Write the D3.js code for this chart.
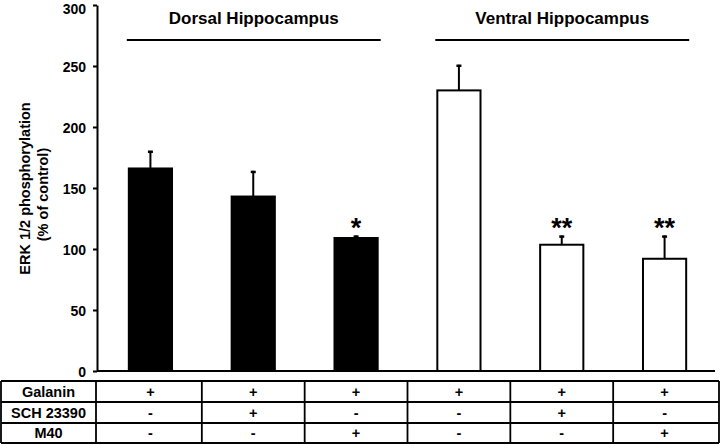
<!DOCTYPE html>
<html>
<head>
<meta charset="utf-8">
<script src="https://cdn.jsdelivr.net/npm/d3@7"></script>
<style>
  html, body { margin: 0; padding: 0; background: #fff; }
  svg { display: block; }
  text { font-family: "Liberation Sans", Arial, sans-serif; font-weight: bold; fill: #000; }
</style>
</head>
<body>
<svg id="chart" width="720" height="444"></svg>
<script>
// ---- data ----
const conditions = ["D1", "D2", "D3", "V1", "V2", "V3"];
const regions = ["Dorsal Hippocampus", "Ventral Hippocampus"];
const regionOf = ["Dorsal Hippocampus", "Dorsal Hippocampus", "Dorsal Hippocampus",
                  "Ventral Hippocampus", "Ventral Hippocampus", "Ventral Hippocampus"];
const values = [166, 143, 109, 230, 103.5, 92];
const errors = [14.5, 21, 2, 21, 7.5, 19];
const significance = ["", "", "*", "", "**", "**"];
const yTicks = [0, 50, 100, 150, 200, 250, 300];
const rowLabels = ["Galanin", "SCH 23390", "M40"];
const galanin = ["+", "+", "+", "+", "+", "+"];
const sch23390 = ["-", "+", "-", "-", "+", "-"];
const m40 = ["-", "-", "+", "-", "-", "+"];
const yTitle = ["ERK 1/2 phosphorylation", "(% of control)"];

// ---- layout ----
const svg = d3.select("#chart");
const axisX = 97;
const x = d3.scaleBand().domain(conditions).range([99, 716]).paddingInner(0.58).paddingOuter(0.29);
const y = d3.scaleLinear().domain([0, 300]).range([371, 5]);
const bw = x.bandwidth();

// y axis
const yAxis = svg.append("g").attr("transform", `translate(${axisX},0)`)
  .call(d3.axisLeft(y).tickValues(yTicks).tickSize(4).tickPadding(7).tickSizeOuter(0));
yAxis.select(".domain").attr("stroke", "#000").attr("stroke-width", 2);
yAxis.selectAll(".tick line").attr("stroke", "#000").attr("stroke-width", 2);
yAxis.selectAll(".tick text").style("font-size", "14px").attr("font-family", null)
  .attr("dy", d => d === 300 ? "0.58em" : "0.36em");

// y title
yTitle.forEach((t, i) => {
  const cx = [30, 48][i], cy = [188.5, 194.5][i];
  svg.append("text").attr("transform", `translate(${cx},${cy}) rotate(-90)`)
    .attr("text-anchor", "middle").style("font-size", "14.5px").text(t);
});

// bars
const data = conditions.map((c, i) => ({ c, v: values[i], e: errors[i], s: significance[i], r: regionOf[i] }));
svg.append("g").selectAll("rect").data(data).join("rect")
  .attr("x", d => x(d.c)).attr("width", bw)
  .attr("y", d => y(d.v)).attr("height", d => y(0) - y(d.v))
  .attr("fill", d => d.r === regions[0] ? "#000" : "#fff")
  .attr("stroke", "#000").attr("stroke-width", 2);

// error bars (upper only)
const eg = svg.append("g");
eg.selectAll("line.err").data(data).join("line").attr("class", "err")
  .attr("x1", d => x(d.c) + bw / 2).attr("x2", d => x(d.c) + bw / 2)
  .attr("y1", d => y(d.v)).attr("y2", d => y(d.v + d.e))
  .attr("stroke", "#000").attr("stroke-width", 2);
eg.selectAll("line.cap").data(data).join("line").attr("class", "cap")
  .attr("x1", d => x(d.c) + bw / 2 - 2.5).attr("x2", d => x(d.c) + bw / 2 + 2.5)
  .attr("y1", d => y(d.v + d.e) + 1).attr("y2", d => y(d.v + d.e) + 1)
  .attr("stroke", "#000").attr("stroke-width", 2.5);

// significance stars
svg.append("g").selectAll("text").data(data.filter(d => d.s)).join("text")
  .attr("x", d => x(d.c) + bw / 2).attr("y", 237)
  .attr("text-anchor", "middle").style("font-size", "27px").text(d => d.s);

// x axis baseline
svg.append("line").attr("x1", axisX).attr("x2", 715).attr("y1", y(0)).attr("y2", y(0))
  .attr("stroke", "#000").attr("stroke-width", 2);

// region headers
regions.forEach(r => {
  const members = data.filter(d => d.r === r);
  const x0 = x(members[0].c) - 2, x1 = x(members[members.length - 1].c) + bw + 3;
  svg.append("line").attr("x1", x0).attr("x2", x1).attr("y1", 40).attr("y2", 40)
    .attr("stroke", "#000").attr("stroke-width", 2);
  svg.append("text").attr("x", (x0 + x1) / 2).attr("y", 24).attr("text-anchor", "middle")
    .style("font-size", "17px").text(r);
});

// treatment table
const rowsData = [galanin, sch23390, m40];
const rowY = [381, 402, 423, 443];
const tableLeft = 1, tableRight = 719, labelRight = 96;
const tg = svg.append("g");
rowY.forEach(yy => tg.append("line").attr("x1", tableLeft).attr("x2", tableRight)
  .attr("y1", yy).attr("y2", yy).attr("stroke", "#000").attr("stroke-width", 1.8));
const colEdges = [tableLeft, labelRight].concat(conditions.slice(1).map(c => x(c) + bw / 2 - x.step() / 2), [tableRight]);
colEdges.forEach(xx => tg.append("line").attr("x1", xx).attr("x2", xx)
  .attr("y1", rowY[0]).attr("y2", rowY[3]).attr("stroke", "#000").attr("stroke-width", 1.8));
rowLabels.forEach((lab, ri) => {
  const cy = (rowY[ri] + rowY[ri + 1]) / 2;
  tg.append("text").attr("x", (tableLeft + labelRight) / 2).attr("y", cy).attr("dy", "0.36em")
    .attr("text-anchor", "middle").style("font-size", "14.5px").text(lab);
  tg.selectAll(null).data(rowsData[ri]).join("text")
    .attr("x", (d, i) => x(conditions[i]) + bw / 2).attr("y", cy).attr("dy", "0.36em")
    .attr("text-anchor", "middle").style("font-size", "14.5px").text(d => d);
});
</script>
</body>
</html>
